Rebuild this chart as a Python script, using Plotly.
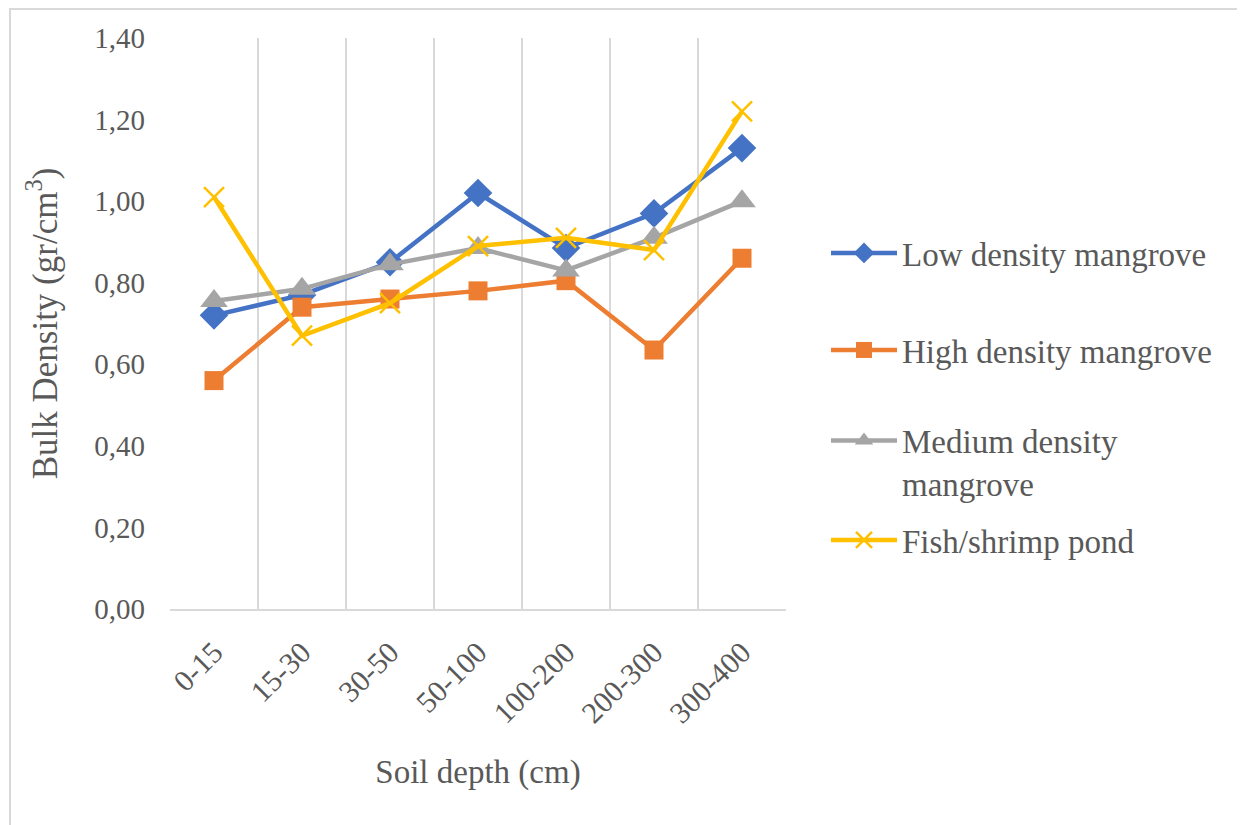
import plotly.graph_objects as go

depths = ["0-15", "15-30", "30-50", "50-100", "100-200", "200-300", "300-400"]
low_density = [0.72, 0.77, 0.85, 1.02, 0.885, 0.97, 1.13]
high_density = [0.56, 0.74, 0.76, 0.78, 0.805, 0.635, 0.86]
medium_density = [0.755, 0.785, 0.845, 0.885, 0.83, 0.91, 1.00]
fish_pond = [1.01, 0.67, 0.75, 0.89, 0.91, 0.88, 1.22]
y_ticks = [0, 0.2, 0.4, 0.6, 0.8, 1.0, 1.2, 1.4]
y_tick_labels = ["0,00", "0,20", "0,40", "0,60", "0,80", "1,00", "1,20", "1,40"]

FONT = "Liberation Serif, DejaVu Serif, serif"
TXT = "#595959"

series = [
    ("Low density mangrove", low_density, "#4472C4", dict(symbol="diamond", size=22)),
    ("High density mangrove", high_density, "#ED7D31", dict(symbol="square", size=19)),
    ("Medium density<br>mangrove", medium_density, "#A5A5A5", dict(symbol="triangle-up", size=24)),
    ("Fish/shrimp pond", fish_pond, "#FFC000", dict(symbol="x-thin", size=20)),
]
legend_ids = ["legend", "legend2", "legend3", "legend4"]
legend_y_px = [253, 350, 462, 540]

OFF = 8  # page body margin
L, R, T, B = 170 - OFF, 786 - OFF, 38 - OFF, 609 - OFF
W, H = 1245 - OFF, 825 - OFF
pw, ph = R - L, B - T

def px(x):
    return (x - OFF - L) / pw

def py(y):
    return (B - (y - OFF)) / ph

fig = go.Figure()
for i, (name, vals, col, mk) in enumerate(series):
    marker = dict(color=col, **mk)
    if mk["symbol"] == "x-thin":
        marker["line"] = dict(color=col, width=2.5)
    fig.add_trace(go.Scatter(
        x=depths, y=vals, name=name, mode="lines+markers",
        line=dict(color=col, width=4.5),
        marker=marker, legend=legend_ids[i],
    ))

layout_legends = {}
for i, lid in enumerate(legend_ids):
    layout_legends[lid] = dict(
        x=px(826), y=py(legend_y_px[i]), xanchor="left", yanchor="middle",
        font=dict(family=FONT, size=33, color=TXT),
        itemwidth=66, bgcolor="rgba(0,0,0,0)",
        valign="top" if i == 2 else "middle",
    )

fig.update_layout(
    width=W, height=H,
    margin=dict(l=L, r=W - R, t=T, b=H - B),
    paper_bgcolor="white", plot_bgcolor="white",
    font=dict(family=FONT, color=TXT, size=28),
    showlegend=True,
    **layout_legends,
    xaxis=dict(
        type="category", tickson="boundaries", showgrid=True,
        gridcolor="#D9D9D9", gridwidth=1.5,
        showline=True, linecolor="#D9D9D9", linewidth=1.5,
        ticks="", tickangle=-45, ticklabelstandoff=12,
        tickfont=dict(family=FONT, size=30, color=TXT),
        title=dict(text="Soil depth (cm)", font=dict(family=FONT, size=33, color=TXT), standoff=32),
        zeroline=False, range=[-0.5, 6.5],
    ),
    yaxis=dict(
        range=[0, 1.4], tickvals=y_ticks, ticktext=y_tick_labels,
        showgrid=False, showline=False, zeroline=False, ticks="",
        ticklabelstandoff=24,
        tickfont=dict(family=FONT, size=29, color=TXT),
        title=dict(text="Bulk Density (gr/cm<sup>3</sup>)", font=dict(family=FONT, size=35, color=TXT), standoff=26),
    ),
    shapes=[dict(
        type="rect", xref="paper", yref="paper",
        x0=px(10), x1=px(1243), y0=py(830), y1=py(9),
        line=dict(color="#D9D9D9", width=2), fillcolor="rgba(0,0,0,0)", layer="below",
    )],
)

fig.write_html("out.html")
